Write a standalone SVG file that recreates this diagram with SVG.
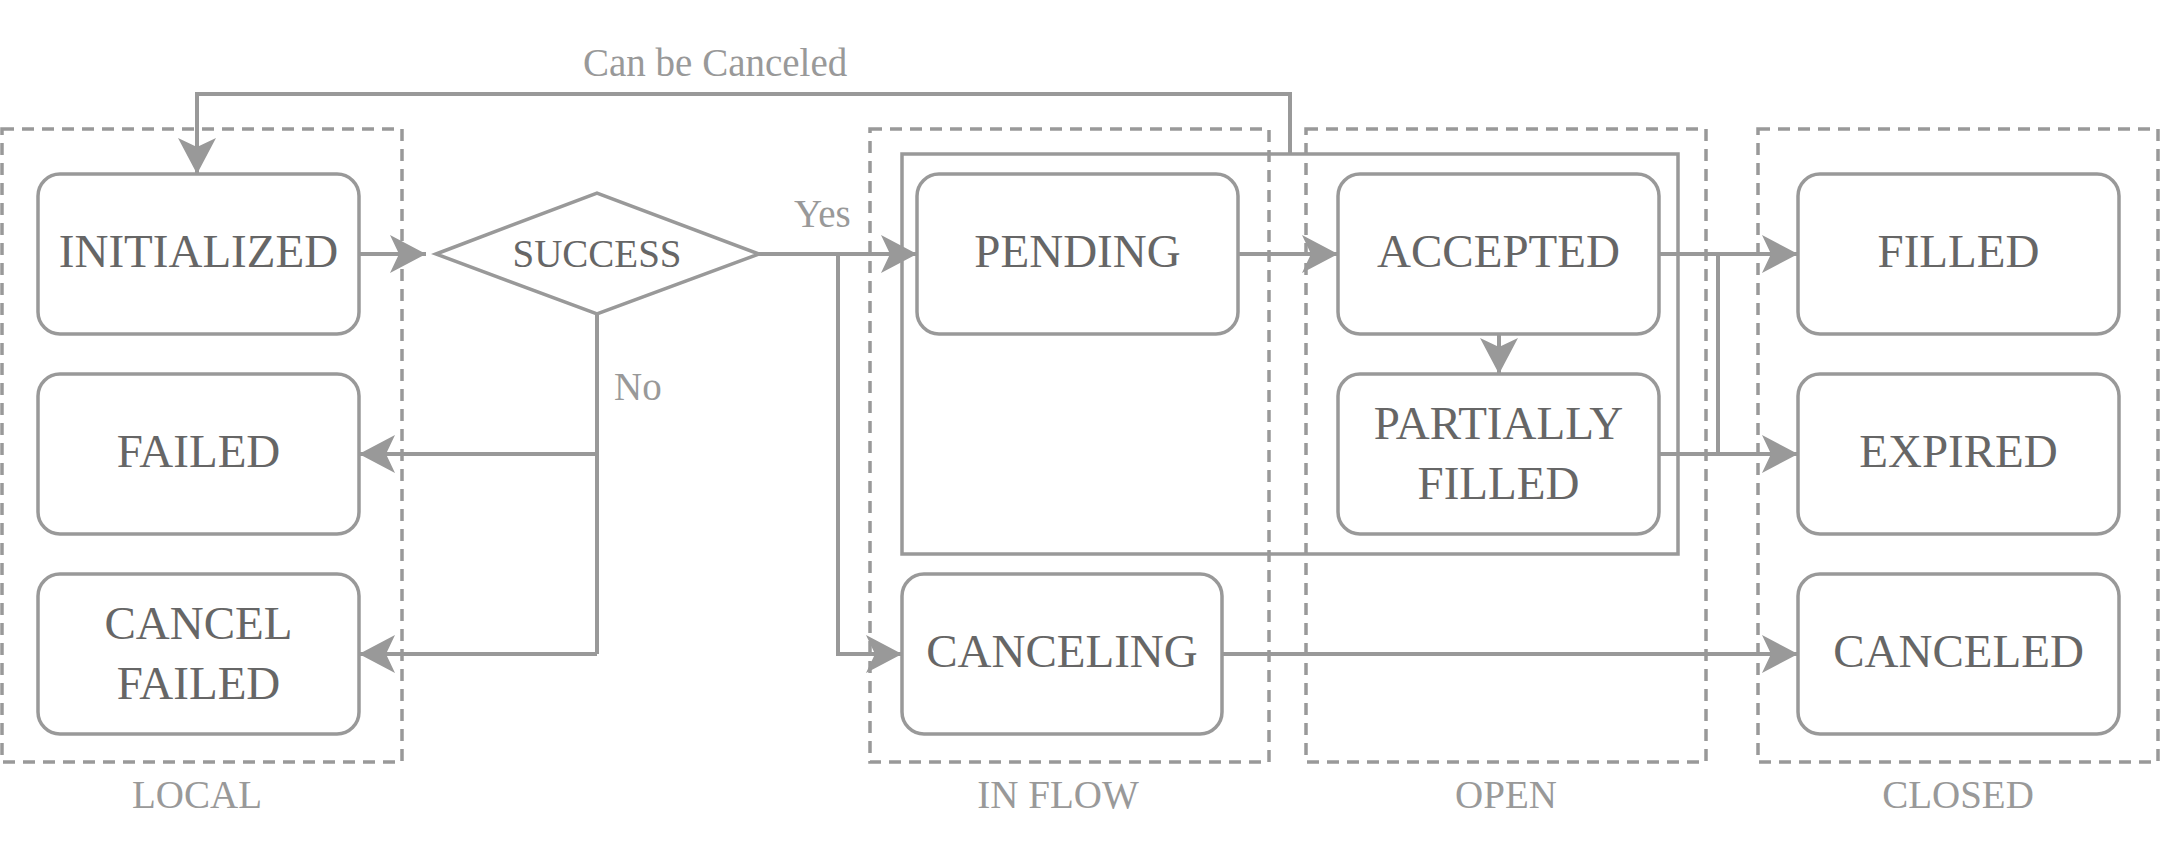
<svg xmlns="http://www.w3.org/2000/svg" width="2164" height="856" viewBox="0 0 2164 856">
<style>
  .group { fill: none; stroke: #999999; stroke-width: 3.5; stroke-dasharray: 12 8; }
  .node { fill: #ffffff; stroke: #999999; stroke-width: 3.5; }
  .frame { fill: none; stroke: #999999; stroke-width: 3.5; }
  .t { font-family: "Liberation Serif", "Times New Roman", serif; font-size: 47px; fill: #666666; text-anchor: middle; }
  .d { font-family: "Liberation Serif", "Times New Roman", serif; font-size: 39px; fill: #666666; text-anchor: middle; }
  .lbl { font-family: "Liberation Serif", "Times New Roman", serif; font-size: 39px; fill: #999999; }
  .mid { text-anchor: middle; }
  .edge { fill: none; stroke: #999999; stroke-width: 4; }
  .arr { marker-end: url(#ah); }
</style>
<defs>
  <marker id="ah" markerUnits="userSpaceOnUse" markerWidth="42" markerHeight="42" viewBox="-38 -21 42 42" refX="0" refY="0" orient="auto">
    <path d="M0,0 L-36,-19 L-27,0 L-36,19 Z" fill="#999999"/>
  </marker>
</defs>
<rect width="2164" height="856" fill="#ffffff"/>

<g id="group-local">
  <rect class="group" x="2" y="129" width="400" height="633"/>
  <text class="lbl mid" x="197" y="808">LOCAL</text>
</g>
<g id="group-inflow">
  <rect class="group" x="870" y="129" width="399" height="633"/>
  <text class="lbl mid" x="1058" y="808">IN FLOW</text>
</g>
<g id="group-open">
  <rect class="group" x="1306" y="129" width="400" height="633"/>
  <text class="lbl mid" x="1506" y="808">OPEN</text>
</g>
<g id="group-closed">
  <rect class="group" x="1758" y="129" width="400" height="633"/>
  <text class="lbl mid" x="1958" y="808">CLOSED</text>
</g>

<g id="cancelable-frame">
  <rect class="frame" x="902" y="154" width="776" height="400"/>
</g>

<g id="connectors">
  <path class="edge arr" d="M1290,154 L1290,94 L197,94 L197,174"/>
  <path class="edge arr" d="M359,254 L426,254"/>
  <path class="edge arr" d="M759,254 L917,254"/>
  <path class="edge arr" d="M838,254 L838,654 L902,654"/>
  <path class="edge" d="M597,314 L597,654"/>
  <path class="edge arr" d="M597,454 L359,454"/>
  <path class="edge arr" d="M597,654 L359,654"/>
  <path class="edge arr" d="M1238,254 L1338,254"/>
  <path class="edge arr" d="M1499,334 L1499,374"/>
  <path class="edge arr" d="M1659,254 L1798,254"/>
  <path class="edge" d="M1718,254 L1718,454"/>
  <path class="edge arr" d="M1659,454 L1798,454"/>
  <path class="edge arr" d="M1222,654 L1798,654"/>
  <text class="lbl" x="583" y="76">Can be Canceled</text>
  <text class="lbl" x="794" y="227">Yes</text>
  <text class="lbl" x="614" y="400">No</text>
</g>

<g id="node-initialized">
  <rect class="node" x="38" y="174" width="321" height="160" rx="22" ry="22"/>
  <text class="t" x="198.5" y="267">INITIALIZED</text>
</g>
<g id="node-failed">
  <rect class="node" x="38" y="374" width="321" height="160" rx="22" ry="22"/>
  <text class="t" x="198.5" y="467">FAILED</text>
</g>
<g id="node-cancel-failed">
  <rect class="node" x="38" y="574" width="321" height="160" rx="22" ry="22"/>
  <text class="t" x="198.5" y="639">CANCEL</text>
  <text class="t" x="198.5" y="699">FAILED</text>
</g>
<g id="node-success">
  <polygon class="node" points="436,254 597,193 759,254 597,314"/>
  <text class="d" x="597" y="267">SUCCESS</text>
</g>
<g id="node-pending">
  <rect class="node" x="917" y="174" width="321" height="160" rx="22" ry="22"/>
  <text class="t" x="1077.5" y="267">PENDING</text>
</g>
<g id="node-canceling">
  <rect class="node" x="902" y="574" width="320" height="160" rx="22" ry="22"/>
  <text class="t" x="1062" y="667">CANCELING</text>
</g>
<g id="node-accepted">
  <rect class="node" x="1338" y="174" width="321" height="160" rx="22" ry="22"/>
  <text class="t" x="1498.5" y="267">ACCEPTED</text>
</g>
<g id="node-partially-filled">
  <rect class="node" x="1338" y="374" width="321" height="160" rx="22" ry="22"/>
  <text class="t" x="1498.5" y="439">PARTIALLY</text>
  <text class="t" x="1498.5" y="499">FILLED</text>
</g>
<g id="node-filled">
  <rect class="node" x="1798" y="174" width="321" height="160" rx="22" ry="22"/>
  <text class="t" x="1958.5" y="267">FILLED</text>
</g>
<g id="node-expired">
  <rect class="node" x="1798" y="374" width="321" height="160" rx="22" ry="22"/>
  <text class="t" x="1958.5" y="467">EXPIRED</text>
</g>
<g id="node-canceled">
  <rect class="node" x="1798" y="574" width="321" height="160" rx="22" ry="22"/>
  <text class="t" x="1958.5" y="667">CANCELED</text>
</g>
</svg>
